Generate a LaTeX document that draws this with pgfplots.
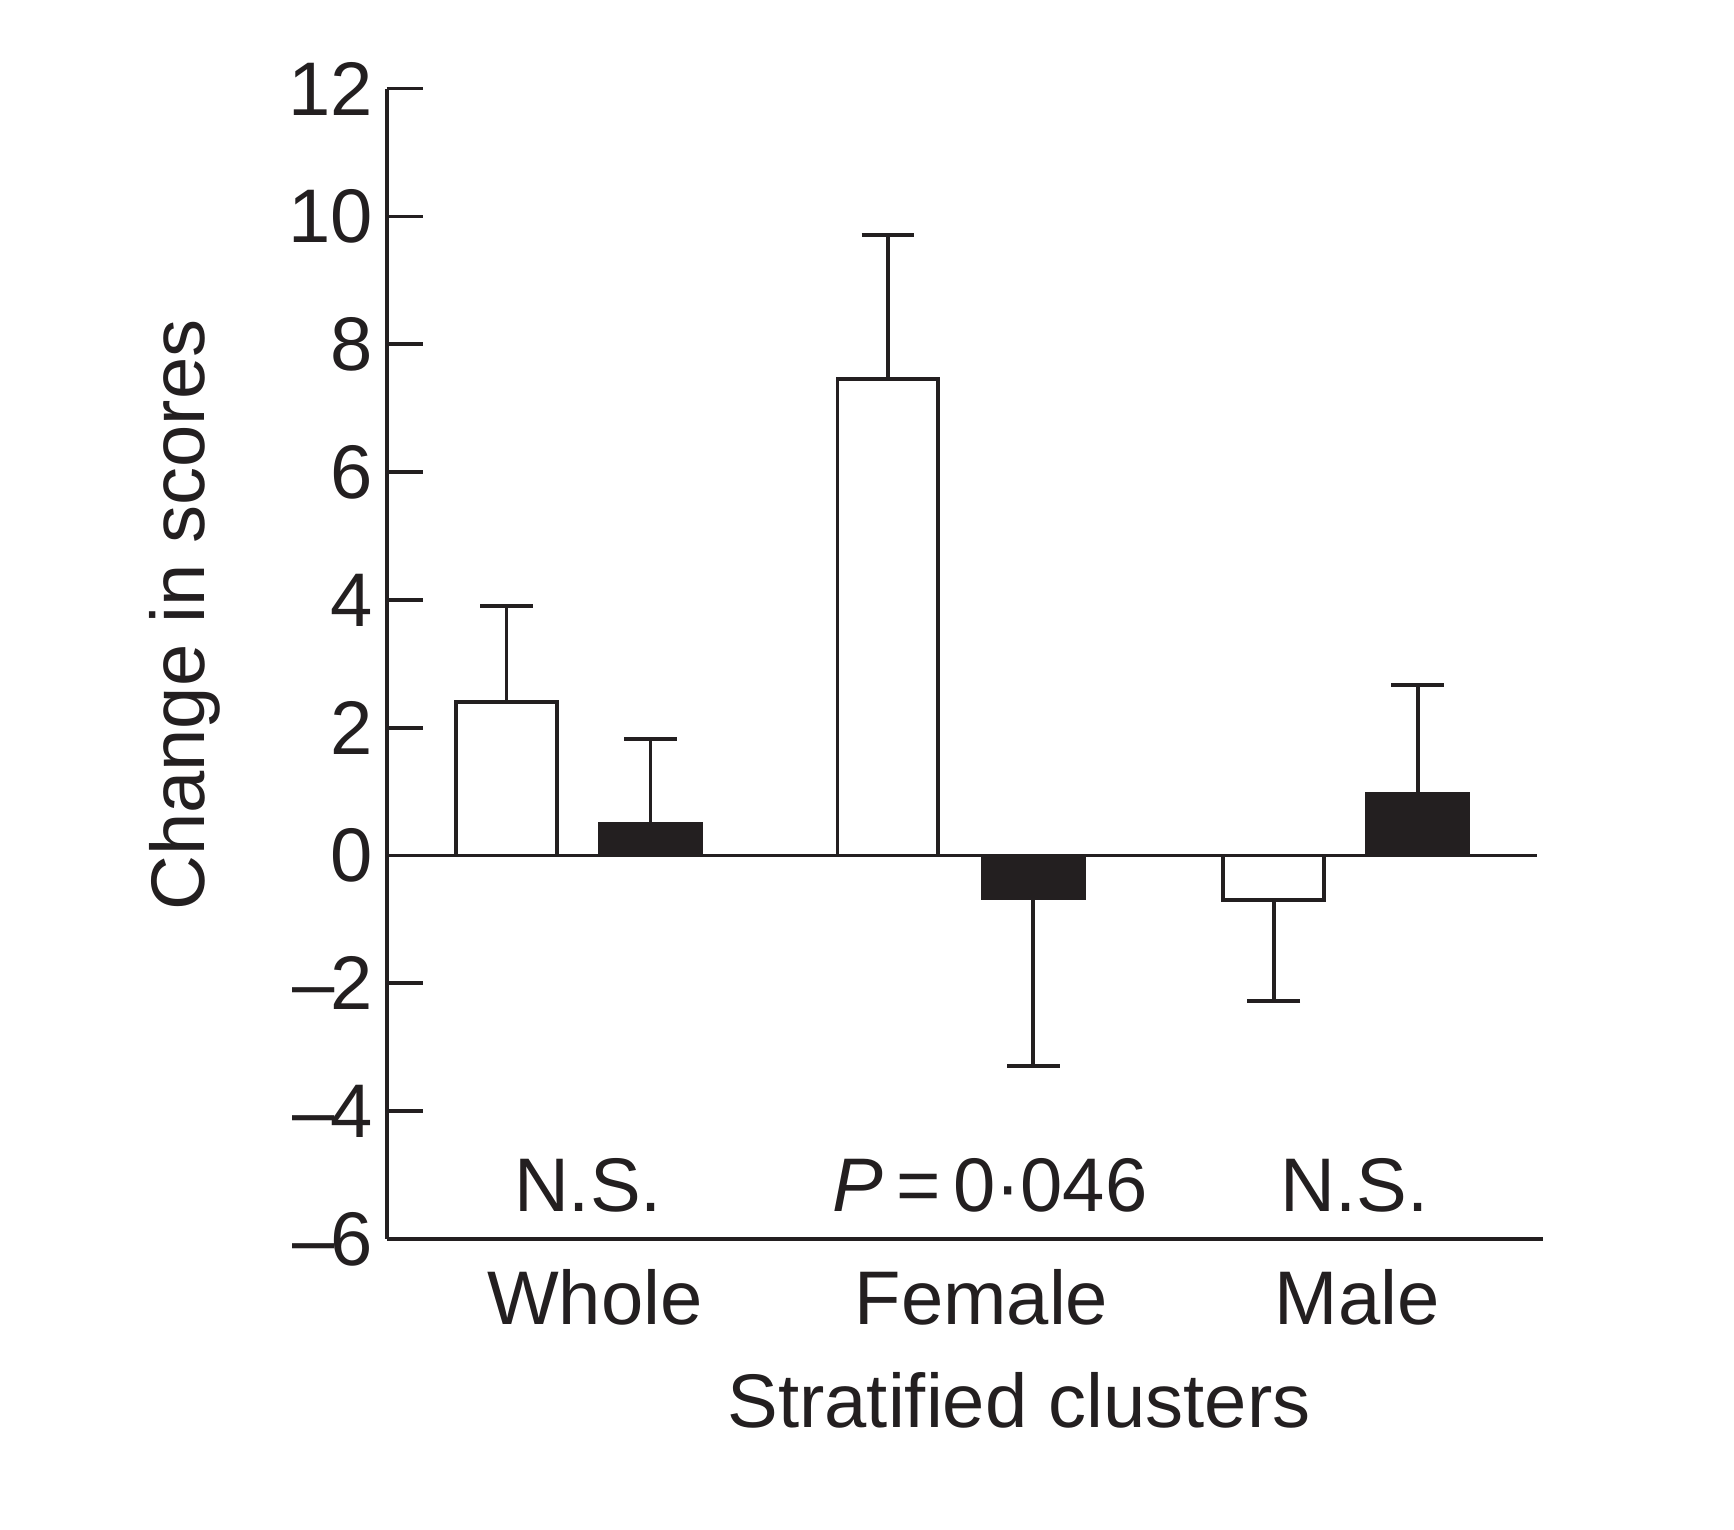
\documentclass[border=0pt]{standalone}
\usepackage{fontspec}
\setmainfont{Liberation Sans}
\usepackage{pgfplots}
\pgfplotsset{compat=1.18}
\definecolor{ink}{HTML}{231F20}

\pgfplotsset{
  error bars/capped/.style={
    error bar style={ink, line width=0.95pt},
    error mark options={ink, line width=0.95pt, mark size=6.6pt, rotate=90}},
}

\begin{document}
\begin{tikzpicture}[font=\fontsize{19}{23}\selectfont]
\useasboundingbox (-96.75pt,-72.75pt) rectangle (336.75pt,309.75pt);
\begin{axis}[
  scale only axis, width=289pt, height=287.6pt,
  xmin=0, xmax=8.03, ymin=-6, ymax=12,
  axis lines*=left,
  axis line style={ink, line width=0.95pt},
  ytick={-6,-4,...,12},
  yticklabels={–\kern-0.06em6,–\kern-0.06em4,–\kern-0.06em2,0,2,4,6,8,10,12},
  tick align=inside, major tick length=9pt,
  ytick style={ink, line width=0.95pt},
  xtick={1.444,4.13,6.74},
  xticklabels={Whole,Female,Male},
  xtick style={draw=none},
  xticklabel style={anchor=base, yshift=-21.5pt},
  ticklabel style={text=ink},
  ylabel={Change in scores},
  ylabel style={at={(axis description cs:-0.1747,0.5424)}, anchor=center, text=ink},
  xlabel={Stratified clusters},
  xlabel style={at={(axis description cs:0.5467,0)}, anchor=base, yshift=-47pt, text=ink},
  clip=false,
]
% zero reference line
\draw[ink, line width=0.95pt] (axis cs:0,0) -- (axis cs:7.99,0);

% open bars, positive changes
\addplot[ybar, bar width=0.7, bar shift=0pt, fill=white, draw=ink, line width=0.95pt,
  error bars/.cd, y dir=plus, y explicit, capped]
  coordinates {(0.83,2.4) +- (0,1.5) (3.48,7.45) +- (0,2.26)};
% open bar, negative change
\addplot[ybar, bar width=0.7, bar shift=0pt, fill=white, draw=ink, line width=0.95pt,
  error bars/.cd, y dir=minus, y explicit, capped]
  coordinates {(6.16,-0.7) +- (0,1.57)};
% filled bars, positive changes
\addplot[ybar, bar width=0.7, bar shift=0pt, fill=ink, draw=ink, line width=0.95pt,
  error bars/.cd, y dir=plus, y explicit, capped]
  coordinates {(1.83,0.5) +- (0,1.32) (7.16,0.97) +- (0,1.7)};
% filled bar, negative change
\addplot[ybar, bar width=0.7, bar shift=0pt, fill=ink, draw=ink, line width=0.95pt,
  error bars/.cd, y dir=minus, y explicit, capped]
  coordinates {(4.49,-0.66) +- (0,2.63)};

% significance annotations
\node[anchor=base, text=ink] at (axis cs:1.396,-5.57) {N.S.};
\node[anchor=base, text=ink] at (axis cs:4.19,-5.57) {\textit{P}\,=\,0·046};
\node[anchor=base, text=ink] at (axis cs:6.72,-5.57) {N.S.};
\end{axis}
\end{tikzpicture}
\end{document}
